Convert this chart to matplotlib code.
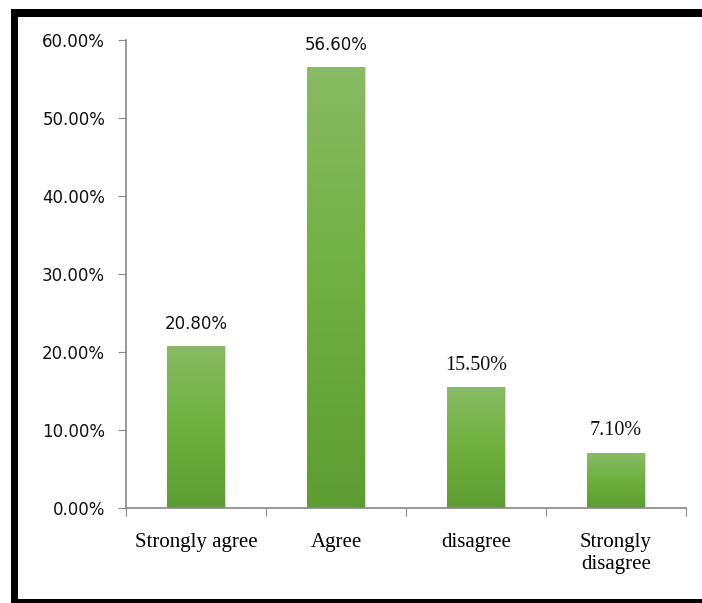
import numpy as np
import matplotlib
matplotlib.use("Agg")
import matplotlib.pyplot as plt
from matplotlib.patches import Rectangle
from matplotlib.colors import LinearSegmentedColormap

categories = ["Strongly agree", "Agree", "disagree", "Strongly\ndisagree"]
values = [20.80, 56.60, 15.50, 7.10]
value_labels = ["20.80%", "56.60%", "15.50%", "7.10%"]
label_fonts = ["DejaVu Sans", "DejaVu Sans", "Liberation Serif", "Liberation Serif"]
yticks = [0, 10, 20, 30, 40, 50, 60]
ytick_labels = ["0.00%", "10.00%", "20.00%", "30.00%", "40.00%", "50.00%", "60.00%"]

W, H = 702, 603
fig = plt.figure(figsize=(W / 100, H / 100), dpi=100)
ax = fig.add_axes([126 / W, 1 - 508 / H, 560 / W, (508 - 40) / H])

grad = LinearSegmentedColormap.from_list("g", ["#5d9d32", "#6fb03f", "#88bb63"])
x = np.arange(len(categories))
bw = 0.41
bars = ax.bar(x, values, width=bw, color="none", edgecolor="none", zorder=2)
for b in bars:
    x0, y0 = b.get_x(), b.get_y()
    w, h = b.get_width(), b.get_height()
    # soft shadow on the right side
    ax.add_patch(Rectangle((x0 + 0.01, y0), w, h, color="#dcdcdc", zorder=1, lw=0))
    im = ax.imshow(np.linspace(0, 1, 256).reshape(-1, 1), cmap=grad, aspect="auto",
                   origin="lower", extent=(x0, x0 + w, y0, y0 + h), zorder=2)
    im.set_clip_path(b)

for xi, v, lab, fam in zip(x, values, value_labels, label_fonts):
    size = 12 if fam == "DejaVu Sans" else 14.5
    ax.annotate(lab, (xi, v), xytext=(0, 9), textcoords="offset points",
                ha="center", va="bottom", fontsize=size, family=fam, color="#111111")

ax.set_xlim(-0.5, len(categories) - 0.5)
ax.set_ylim(0, 60)
ax.set_yticks(yticks)
ax.set_yticklabels(ytick_labels, family="DejaVu Sans", fontsize=12)
ax.set_xticks(np.arange(len(categories) + 1) - 0.5)
ax.set_xticklabels([])
ax.set_xticks(x, minor=True)
ax.set_xticklabels(categories, minor=True, family="Liberation Serif", fontsize=15,
                   linespacing=1.25)
ax.tick_params(axis="x", which="minor", length=0, pad=18)
ax.tick_params(axis="x", which="major", length=6, color="#888888", direction="out")
ax.tick_params(axis="y", length=6, color="#888888", pad=9, labelcolor="#111111")
for s in ["top", "right"]:
    ax.spines[s].set_visible(False)
for s in ["left", "bottom"]:
    ax.spines[s].set_color("#888888")
    ax.spines[s].set_linewidth(1.2)

# outer black frame (left, top, bottom visible)
fig.patches.append(Rectangle((11 / W, 0), 7 / W, 1 - 9 / H, transform=fig.transFigure,
                             color="black", lw=0))
fig.patches.append(Rectangle((11 / W, 1 - 17 / H), 1, 8 / H, transform=fig.transFigure,
                             color="black", lw=0))
fig.patches.append(Rectangle((11 / W, 0), 1, 4 / H, transform=fig.transFigure,
                             color="black", lw=0))

fig.savefig("out.png", dpi=100)
